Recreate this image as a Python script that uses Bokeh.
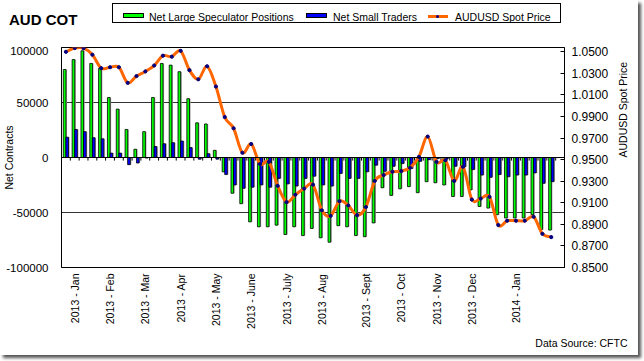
import numpy as np
from math import pi
from bokeh.plotting import figure
from bokeh.layouts import column
from bokeh.models import (Range1d, LinearAxis, FixedTicker, NumeralTickFormatter, Span, Div)
from bokeh.embed import file_html
from bokeh.resources import INLINE

# ---------------- data (weekly) ----------------
weeks = list(range(56))
large_spec = [80000, 89000, 97000, 85500, 81000, 54500, 44000, 25500, 7500, 23500,
              54500, 85500, 84000, 78000, 53500, 31500, 30500, 6500, -13000, -32500,
              -42000, -58500, -63000, -63000, -61500, -70000, -63000, -71000, -64500, -73000,
              -77000, -62000, -63000, -71000, -72000, -59500, -27500, -34500, -28500, -26500,
              -32000, -22000, -23000, -25000, -35500, -35500, -29500, -44500, -46000, -52000,
              -55000, -55000, -55000, -52000, -65500, -66000]
small_traders = [18500, 25500, 23500, 18000, 17000, 4000, 4000, -6500, -5000, -500,
                 10000, 12500, 13500, 15000, 9000, -1500, 3500, -1500, -15500, -25000,
                 -28000, -27000, -25000, -27000, -19000, -24000, -26000, -19000, -17000, -25000,
                 -26000, -14500, -19000, -19000, -13000, -7000, -12500, -8000, -5500, -10000,
                 -3500, -2000, -1000, -1500, -8000, -8500, -11000, -16000, -18000, -15500,
                 -17500, -16000, -16000, -14000, -23500, -22000]
audusd = [1.0500, 1.0535, 1.0534, 1.0473, 1.0348, 1.0357, 1.0357, 1.0212, 1.0275, 1.0318,
          1.0373, 1.0464, 1.0455, 1.0509, 1.0330, 1.0245, 1.0366, 1.0178, 0.9895, 0.9791,
          0.9564, 0.9645, 0.9459, 0.9479, 0.9257, 0.9106, 0.9175, 0.9232, 0.9268, 0.9030,
          0.8979, 0.9115, 0.9075, 0.8985, 0.9061, 0.9303, 0.9357, 0.9388, 0.9394, 0.9425,
          0.9525, 0.9714, 0.9479, 0.9494, 0.9303, 0.9434, 0.9130, 0.9139, 0.9155, 0.8894,
          0.8934, 0.8934, 0.8934, 0.8970, 0.8812, 0.8782]
month_ticks = [1, 5, 9, 13, 17, 21, 25, 29, 34, 38, 42, 46, 51]
month_labels = ["2013 - Jan", "2013 - Feb", "2013 - Mar", "2013 - Apr", "2013 - May",
                "2013 - June", "2013 - July", "2013 - Aug", "2013 - Sept", "2013 - Oct",
                "2013 - Nov", "2013 - Dec", "2014 - Jan"]
series_names = ["Net Large Speculator Positions", "Net Small Traders", "AUDUSD Spot Price"]
left_ticks = [-100000, -50000, 0, 50000, 100000]
right_ticks = [0.85, 0.87, 0.89, 0.91, 0.93, 0.95, 0.97, 0.99, 1.01, 1.03, 1.05]

FONT = "Liberation Sans"
GREEN, BLUE, ORANGE, NAVY = "#00ff00", "#0000ff", "#ff6600", "#000080"
W = 638

# ---------------- header: title + legend ----------------
lab = "position:absolute;top:11px;font-size:10.5px;line-height:12px;white-space:nowrap;"
sw = "position:absolute;top:13px;width:21px;height:5px;border:1px solid #000;"
header_html = f"""
<div style="position:relative;width:{W}px;height:46px;font-family:'{FONT}',Arial,sans-serif;color:#000;">
  <div style="position:absolute;left:9px;top:11px;font-size:15px;line-height:17px;font-weight:bold;white-space:nowrap;">AUD COT</div>
  <div style="position:absolute;left:112px;top:3px;width:449px;height:20px;border:1px solid #000;background:#fff;"></div>
  <div style="{sw}left:123px;background:{GREEN};"></div>
  <div style="{lab}left:149px;">{series_names[0]}</div>
  <div style="{sw}left:306px;background:{BLUE};"></div>
  <div style="{lab}left:333px;">{series_names[1]}</div>
  <div style="position:absolute;left:428px;top:15px;width:20px;height:3px;background:{ORANGE};"></div>
  <div style="position:absolute;left:436px;top:15px;width:3px;height:3px;border-radius:50%;background:{NAVY};"></div>
  <div style="{lab}left:455px;">{series_names[2]}</div>
</div>
"""
head = Div(text=header_html, width=W, height=46, margin=0)

# ---------------- main chart ----------------
p = figure(width=W, height=285, output_backend="svg", toolbar_location=None,
           x_range=Range1d(-0.5, 56.5), y_range=Range1d(-100000, 100000),
           min_border_left=61, min_border_right=73, min_border_top=1, min_border_bottom=60)
p.extra_y_ranges = {"price": Range1d(0.85, 1.054)}
p.background_fill_color = "white"
p.border_fill_color = "white"
p.outline_line_color = "black"
p.outline_line_width = 1

p.xgrid.visible = False
p.ygrid.ticker = FixedTicker(ticks=[-50000, 50000])
p.ygrid.grid_line_color = "#333333"
p.ygrid.grid_line_width = 1

xa = p.xaxis[0]
xa.ticker = FixedTicker(ticks=month_ticks)
xa.major_label_overrides = {t: l for t, l in zip(month_ticks, month_labels)}
xa.major_label_orientation = pi / 2
xa.axis_line_color = None
xa.major_tick_out = 0
xa.major_tick_in = 0
xa.minor_tick_line_color = None
xa.major_label_standoff = 6
xa.major_label_text_font = FONT
xa.major_label_text_font_size = "10.5px"
xa.major_label_text_color = "black"

ya = p.yaxis[0]
ya.ticker = FixedTicker(ticks=left_ticks)
ya.formatter = NumeralTickFormatter(format="0")
ya.major_tick_out = 0
ya.major_tick_in = 0
ya.minor_tick_line_color = None
ya.axis_line_color = "black"
ya.major_label_standoff = 13
ya.major_label_text_font = FONT
ya.major_label_text_font_size = "11.5px"
ya.major_label_text_color = "black"
ya.axis_label = "Net Contracts"
ya.axis_label_standoff = -12
ya.axis_label_text_font = FONT
ya.axis_label_text_font_size = "10.5px"
ya.axis_label_text_font_style = "normal"
ya.axis_label_text_color = "black"

ra = LinearAxis(y_range_name="price", ticker=FixedTicker(ticks=right_ticks),
                formatter=NumeralTickFormatter(format="0.0000"))
ra.major_tick_in = 4
ra.major_tick_out = 0
ra.minor_tick_line_color = None
ra.axis_line_color = "black"
ra.major_label_standoff = 7
ra.major_label_text_font = FONT
ra.major_label_text_font_size = "12px"
ra.major_label_text_color = "black"
ra.axis_label = "AUDUSD Spot Price"
ra.axis_label_standoff = 12
ra.axis_label_text_font = FONT
ra.axis_label_text_font_size = "10.5px"
ra.axis_label_text_font_style = "normal"
ra.axis_label_text_color = "black"
if "axis_label_orientation" in ra.properties():
    ra.axis_label_orientation = pi / 2
p.add_layout(ra, "right")

xs = np.array(weeks, dtype=float)

# bar shadows
p.vbar(x=xs - 0.145 + 0.12, top=large_spec, bottom=0, width=0.3,
       fill_color="#a0a0a0", line_color=None)
p.vbar(x=xs + 0.145 + 0.12, top=small_traders, bottom=0, width=0.3,
       fill_color="#a0a0a0", line_color=None)
# bars
p.vbar(x=xs - 0.145, top=large_spec, bottom=0, width=0.3,
       fill_color=GREEN, line_color="black", line_width=0.8)
p.vbar(x=xs + 0.145, top=small_traders, bottom=0, width=0.3,
       fill_color=BLUE, line_color="black", line_width=0.8)

# category axis at zero with tick marks between weeks
p.add_layout(Span(location=0, dimension="width", line_color="black", line_width=1))
bounds = xs + 0.5
p.segment(x0=bounds, y0=0, x1=bounds, y1=-2800, line_color="black", line_width=1)

# smoothed price line (Bezier segments through the weekly points)
ys = np.array(audusd)
prv_x = np.r_[xs[0], xs[:-1]]
nxt_x = np.r_[xs[1:], xs[-1]]
prv_y = np.r_[ys[0], ys[:-1]]
nxt_y = np.r_[ys[1:], ys[-1]]
cx0 = xs[:-1] + (nxt_x[:-1] - prv_x[:-1]) / 6
cy0 = ys[:-1] + (nxt_y[:-1] - prv_y[:-1]) / 6
cx1 = xs[1:] - (nxt_x[1:] - prv_x[1:]) / 6
cy1 = ys[1:] - (nxt_y[1:] - prv_y[1:]) / 6
p.bezier(x0=xs[:-1], y0=ys[:-1], x1=xs[1:], y1=ys[1:],
         cx0=cx0, cy0=cy0, cx1=cx1, cy1=cy1, y_range_name="price",
         line_color=ORANGE, line_width=3, line_cap="round")
p.scatter(x=xs, y=ys, y_range_name="price", marker="circle", size=3.2,
          fill_color=NAVY, line_color=NAVY)

# ---------------- footer: data source ----------------
foot = figure(width=W, height=24, output_backend="svg", toolbar_location=None,
              x_axis_type=None, y_axis_type=None, x_range=Range1d(0, 1), y_range=Range1d(0, 1),
              min_border=0, min_border_top=17, outline_line_color=None)
foot.background_fill_color = "white"
foot.border_fill_color = "white"
foot.xgrid.visible = False
foot.ygrid.visible = False
foot.title.text = "Data Source: CFTC"
foot.title.align = "right"
foot.title.offset = -63
foot.title.standoff = 0
foot.title.text_font = FONT
foot.title.text_font_size = "10.5px"
foot.title.text_font_style = "normal"
foot.title.text_color = "black"

layout = column(head, p, foot, spacing=0)
layout.styles = {"box-shadow": "3px 3px 3px #555555", "background-color": "white"}

open("out.html", "w").write(file_html(layout, INLINE, title="AUD COT"))
